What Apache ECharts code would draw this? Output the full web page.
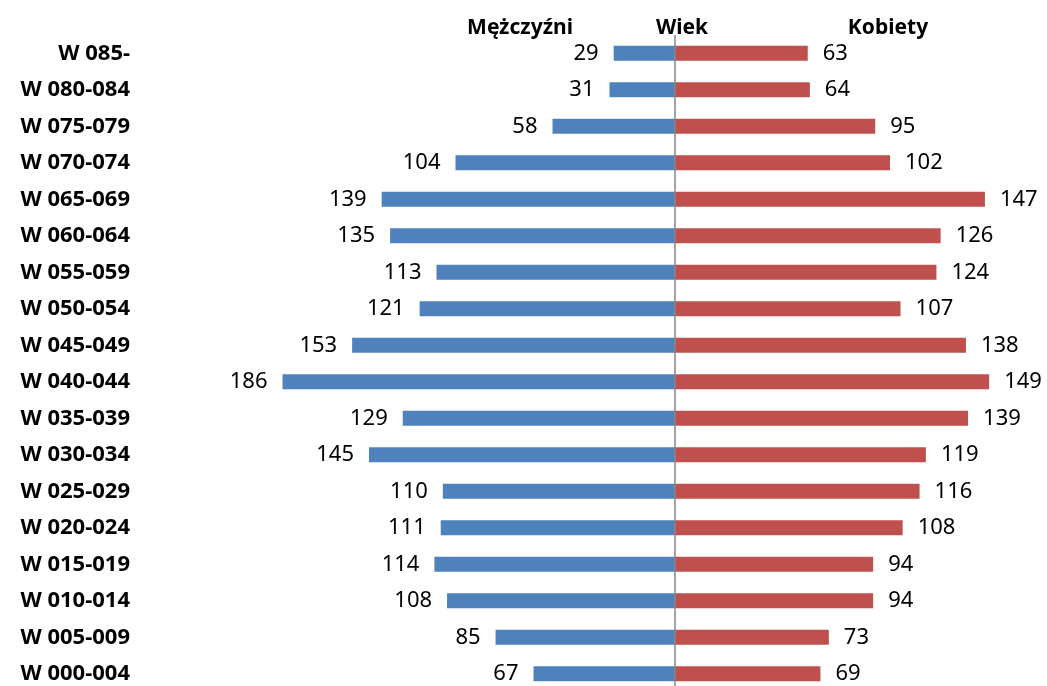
<!DOCTYPE html>
<html>
<head>
<meta charset="utf-8">
<script src="https://cdn.jsdelivr.net/npm/echarts@6/dist/echarts.min.js"></script>
<style>
html, body { margin: 0; padding: 0; background: #fff; overflow: hidden; }
#chart { width: 1047px; height: 700px; }
</style>
</head>
<body>
<div id="chart"></div>
<script>
// grupy wieku, od góry
var ageGroups = ['W 085-', 'W 080-084', 'W 075-079', 'W 070-074', 'W 065-069', 'W 060-064',
  'W 055-059', 'W 050-054', 'W 045-049', 'W 040-044', 'W 035-039', 'W 030-034',
  'W 025-029', 'W 020-024', 'W 015-019', 'W 010-014', 'W 005-009', 'W 000-004']
var men = [29, 31, 58, 104, 139, 135, 113, 121, 153, 186, 129, 145, 110, 111, 114, 108, 85, 67]
var women = [63, 64, 95, 102, 147, 126, 124, 107, 138, 149, 139, 119, 116, 108, 94, 94, 73, 69]
var headers = ['Mężczyźni', 'Wiek', 'Kobiety']

var font = 'Noto Sans'
// div is a bit taller than the window so the last row sits low like the original
var chart = echarts.init(document.getElementById('chart'))

var option = {
  animation: false,
  grid: {
    left: 253,
    right: 3,
    top: 35,
    height: 657,
    containLabel: false
  },
  graphic: [
    { type: 'text', x: 520, y: 28, style: { text: headers[0], textAlign: 'center', textVerticalAlign: 'middle', font: 'bold 21px ' + font, fill: '#000' } },
    { type: 'text', x: 682, y: 28, style: { text: headers[1], textAlign: 'center', textVerticalAlign: 'middle', font: 'bold 21px ' + font, fill: '#000' } },
    { type: 'text', x: 888, y: 28, style: { text: headers[2], textAlign: 'center', textVerticalAlign: 'middle', font: 'bold 21px ' + font, fill: '#000' } }
  ],
  xAxis: {
    type: 'value',
    min: -200,
    max: 175,
    show: false
  },
  yAxis: {
    type: 'category',
    inverse: true,
    data: ageGroups,
    axisLine: { show: false },
    axisTick: { show: false },
    splitLine: { show: false },
    axisLabel: {
      margin: 123,
      color: '#000',
      fontFamily: font,
      fontWeight: 'bold',
      fontSize: 22
    }
  },
  series: [
    {
      name: headers[0],
      type: 'bar',
      stack: 'wiek',
      barWidth: 15,
      data: men.map(function (v) { return -v }),
      itemStyle: { color: '#4f81bd' },
      label: {
        show: true,
        position: 'left',
        distance: 15,
        color: '#000',
        fontFamily: font,
        fontSize: 22,
        formatter: function (p) { return Math.abs(p.value) }
      },
      markLine: {
        silent: true,
        symbol: 'none',
        label: { show: false },
        lineStyle: { color: '#868686', width: 1.5, type: 'solid' },
        data: [{ xAxis: 0 }]
      }
    },
    {
      name: headers[2],
      type: 'bar',
      stack: 'wiek',
      barWidth: 15,
      data: women,
      itemStyle: { color: '#c0504d' },
      label: {
        show: true,
        position: 'right',
        distance: 15,
        color: '#000',
        fontFamily: font,
        fontSize: 22
      }
    }
  ]
}

chart.setOption(option)
</script>
</body>
</html>
